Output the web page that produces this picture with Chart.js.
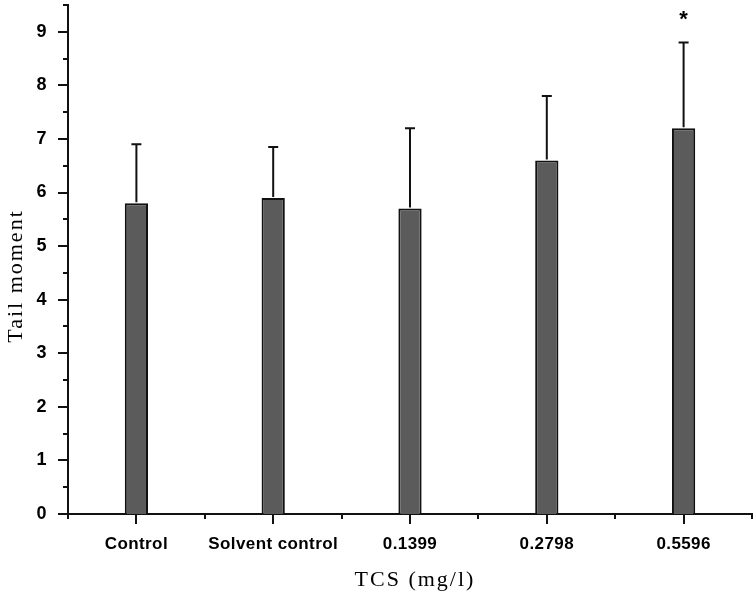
<!DOCTYPE html>
<html>
<head>
<meta charset="utf-8">
<script src="https://cdn.jsdelivr.net/npm/chart.js@4/dist/chart.umd.min.js"></script>
<style>
  body { margin: 0; background: #fff; }
</style>
</head>
<body>
<canvas id="chart" width="756" height="595"></canvas>
<script>
// valori
const categories = ["Control", "Solvent control", "0.1399", "0.2798", "0.5596"];
const means = [5.8, 5.9, 5.7, 6.6, 7.2];
const errUp = [1.1, 0.95, 1.5, 1.2, 1.6];
const marks = ["", "", "", "", "*"];
const markLevel = 9.3;
const yTitle = "Tail moment";
const xTitle = "TCS (mg/l)";

const sans = "'Liberation Sans', Arial, sans-serif";
const serif = "'Liberation Serif', 'Times New Roman', serif";

// barre di errore, tacche degli assi, asterisco e titoli
const extras = {
    id: "extras",
    beforeDraw(chart) {
        chart.ctx.letterSpacing = "0.4px";
    },
    afterDatasetsDraw(chart) {
        const ctx = chart.ctx;
        const y = chart.scales.y;
        const meta = chart.getDatasetMeta(0);
        ctx.save();
        ctx.strokeStyle = "#111";
        ctx.lineWidth = 2;
        meta.data.forEach((bar, i) => {
            const top = y.getPixelForValue(means[i] + errUp[i]);
            ctx.beginPath();
            ctx.moveTo(bar.x, bar.y - 1);
            ctx.lineTo(bar.x, top);
            ctx.moveTo(bar.x - 5, top);
            ctx.lineTo(bar.x + 5, top);
            ctx.stroke();
            if (marks[i]) {
                ctx.fillStyle = "#000";
                ctx.font = "bold 22px " + sans;
                ctx.textAlign = "center";
                ctx.textBaseline = "middle";
                ctx.letterSpacing = "0px";
                ctx.fillText(marks[i], bar.x, y.getPixelForValue(markLevel) + 4);
            }
        });
        ctx.restore();
    },
    afterDraw(chart) {
        const ctx = chart.ctx;
        const x = chart.scales.x;
        const y = chart.scales.y;
        const area = chart.chartArea;
        ctx.save();
        ctx.strokeStyle = "#111";
        ctx.lineWidth = 2;
        ctx.beginPath();
        for (let v = 0; v <= 9.5; v += 0.5) {
            const py = Math.round(y.getPixelForValue(v));
            const len = v % 1 === 0 ? 10 : 5;
            ctx.moveTo(area.left - len, py);
            ctx.lineTo(area.left, py);
        }
        const step = (area.right - area.left) / categories.length;
        for (let i = 0; i <= categories.length; i++) {
            const px = Math.round(area.left + i * step);
            ctx.moveTo(px, area.bottom);
            ctx.lineTo(px, area.bottom + 5);
        }
        categories.forEach((c, i) => {
            const px = Math.round(x.getPixelForValue(i));
            ctx.moveTo(px, area.bottom);
            ctx.lineTo(px, area.bottom + 10);
        });
        ctx.stroke();

        ctx.fillStyle = "#000";
        ctx.font = "22px " + serif;
        ctx.letterSpacing = "2px";
        ctx.textAlign = "center";
        ctx.textBaseline = "middle";
        ctx.fillText(xTitle, 415, 580);
        ctx.translate(16, 276);
        ctx.rotate(-Math.PI / 2);
        ctx.fillText(yTitle, 0, 0);
        ctx.restore();
    }
};

new Chart(document.getElementById("chart"), {
    type: "bar",
    data: {
        labels: categories,
        datasets: [{
            data: means,
            backgroundColor: "#5b5b5b",
            borderColor: "#111",
            borderWidth: 2,
            borderSkipped: "bottom",
            barPercentage: 0.17,
            categoryPercentage: 1
        }]
    },
    options: {
        responsive: false,
        animation: false,
        layout: { padding: { top: 5, right: 4, left: 0, bottom: 0 } },
        plugins: { legend: { display: false }, tooltip: { enabled: false } },
        scales: {
            x: {
                grid: { display: false },
                border: { display: true, color: "#111", width: 2 },
                ticks: {
                    color: "#000",
                    font: { family: sans, size: 17, weight: "bold" },
                    padding: 12,
                    maxRotation: 0,
                    autoSkip: false
                },
                afterFit(scale) {
                    scale.height = 81;
                    scale.paddingLeft = 0;
                    scale.paddingRight = 0;
                }
            },
            y: {
                min: 0,
                max: 9.5,
                grid: { display: false },
                border: { display: true, color: "#111", width: 2 },
                ticks: {
                    stepSize: 0.5,
                    autoSkip: false,
                    color: "#000",
                    font: { family: sans, size: 18, weight: "bold" },
                    padding: 13,
                    callback: v => (v % 1 === 0 ? v : "")
                },
                afterFit(scale) {
                    scale.width = 68;
                    scale.paddingTop = 0;
                    scale.paddingBottom = 0;
                }
            }
        }
    },
    plugins: [extras]
});
</script>
</body>
</html>
